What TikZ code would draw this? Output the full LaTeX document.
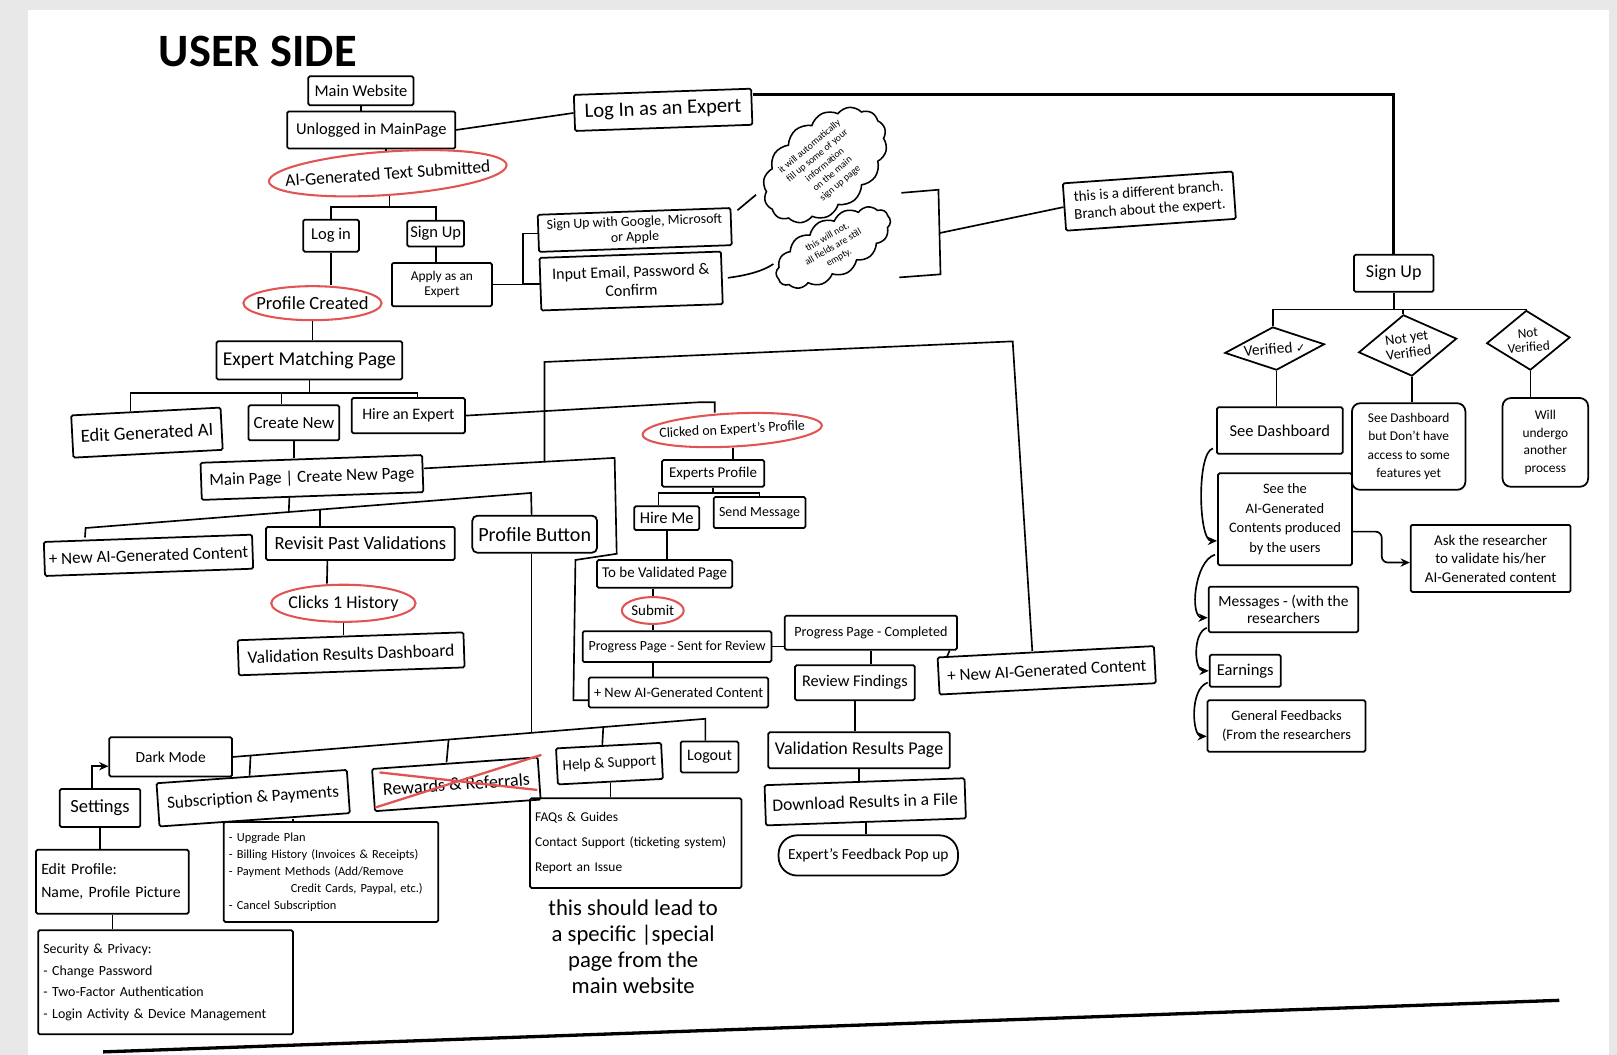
\documentclass[tikz,border=0pt]{standalone}
\usepackage{fontspec}
\setmainfont{Carlito}
\newfontfamily\symf{DejaVu Sans}
\usetikzlibrary{shapes.geometric,shapes.symbols,calc,arrows.meta}
\definecolor{hred}{RGB}{226,84,84}
\definecolor{pagegray}{RGB}{232,232,232}
\begin{document}
\begin{tikzpicture}[x=1pt,y=-1pt,
  box/.style={draw, line width=1.7pt, rounded corners=1.5pt, align=center, inner sep=1pt},
  fs/.style 2 args={font=\fontsize{#1}{#2}\selectfont},
  redell/.style={ellipse, draw=hred, line width=2pt, inner ysep=0pt, align=center},
  conn/.style={line width=1.6pt},
  arr/.style={line width=1.6pt, -{Stealth[length=9pt,width=8pt]}},
  dia/.style={diamond, draw, line width=1.7pt, inner sep=0pt, align=center},
  cloudy/.style={cloud, draw, line width=1.5pt, cloud puffs=14, cloud puff arc=100, cloud ignores aspect, inner sep=1pt, align=center},
  lbox/.style={draw, line width=1.7pt, rounded corners=1.5pt, align=left, inner xsep=5pt, inner ysep=3pt}
]
\useasboundingbox (0,0) rectangle (1568,1023);
\fill[pagegray] (0,0) rectangle (1568,1023);
\fill[white] (27,10) rectangle (1560,1023);

% ---------- title ----------
\node[font=\fontsize{45}{47}\selectfont\bfseries, inner sep=0pt] (title) at (250,50) {USER SIDE};

% ---------- top left ----------
\node[box, fs={16}{18}, minimum width=102pt, minimum height=28pt] (mw) at (350,88) {Main Website};
\node[box, fs={16}{18}, minimum width=163pt, minimum height=36pt] (ul) at (360,126) {Unlogged in MainPage};
\node[redell, inner xsep=-18pt, fs={17}{19}, minimum width=230pt, minimum height=42pt, rotate=4] (aig) at (376,168) {AI-Generated Text Submitted};
\node[box, fs={16}{18}, minimum width=54pt, minimum height=31pt] (login) at (321,228.5) {Log in};
\node[box, fs={16}{18}, minimum width=55pt, minimum height=25pt] (signup) at (422.5,226.5) {Sign Up};
\node[redell, inner xsep=-10pt, fs={18}{20}, minimum width=134pt, minimum height=33pt] (pc) at (303,294) {Profile Created};
\node[box, fs={13}{14}, minimum width=97pt, minimum height=42pt] (apply) at (428.5,276) {Apply as an\\Expert};
\node[box, fs={13.5}{13}, minimum width=187pt, minimum height=36pt, rotate=2] (sug) at (615.5,223) {Sign Up with Google, Microsoft\\[2pt]or Apple};
\node[box, fs={15.5}{18}, minimum width=176pt, minimum height=51pt, rotate=2] (inp) at (612,272.5) {Input Email, Password \&\\Confirm};
\node[box, fs={20}{22}, minimum width=172pt, minimum height=35pt, rotate=2] (lie) at (643,106.5) {Log In as an Expert};

\node[cloudy, rotate=40, fs={9.5}{11.5}, minimum width=138pt, minimum height=84pt] (c1) at (800,160) {it will automatically\\fill up some of your\\information\\on the main\\sign up page};
\node[cloudy, rotate=30, fs={9.5}{11.5}, minimum width=124pt, minimum height=56pt] (c2) at (808,240) {this will not,\\all fields are still\\empty.};
\node[box, fs={14.5}{17}, minimum width=165pt, minimum height=46pt, rotate=4] (note) at (1114.5,195) {this is a different branch.\\Branch about the expert.};

% ---------- expert side ----------
\node[box, fs={17.5}{19}, minimum width=77pt, minimum height=36pt] (esu) at (1351.5,265) {Sign Up};
\node[dia, aspect=2.4, rotate=5, fs={15}{16}, minimum width=97pt, minimum height=42pt] (dv) at (1236,338) {Verified {\symf\fontsize{11}{12}\selectfont ✓}};
\node[dia, aspect=1.6, rotate=8, fs={14}{15}, minimum width=96pt, minimum height=60pt] (dny) at (1365,335) {Not yet\\Verified};
\node[dia, aspect=1.4, rotate=4, fs={13}{14}, minimum width=81pt, minimum height=58pt] (dnv) at (1482,330) {Not\\Verified};
\node[box, fs={16}{18}, minimum width=122pt, minimum height=45pt] (sd) at (1241,417.5) {See Dashboard};
\node[box, rounded corners=8pt, fs={13}{18}, minimum width=110pt, minimum height=84pt] (sdb) at (1366,433) {See Dashboard\\but Don't have\\access to some\\features yet};
\node[box, rounded corners=8pt, fs={13}{17}, minimum width=83pt, minimum height=86pt] (wu) at (1498.5,429) {Will\\undergo\\another\\process};
\node[box, fs={14}{19}, minimum width=130pt, minimum height=89pt] (sai) at (1246,503.5) {See the\\AI-Generated\\Contents produced\\by the users};
\node[box, fs={14.5}{18}, minimum width=155pt, minimum height=65pt] (ask) at (1445.5,541.5) {Ask the researcher\\to validate his/her\\AI-Generated content};
\node[box, fs={15}{17}, minimum width=145pt, minimum height=44pt] (msg) at (1244.5,591) {Messages - (with the\\researchers};
\node[box, fs={16}{18}, minimum width=69pt, minimum height=31pt] (earn) at (1207.5,650.5) {Earnings};
\node[box, fs={14}{18}, minimum width=153pt, minimum height=50pt] (gf) at (1247.5,704) {General Feedbacks\\(From the researchers};

% ---------- middle left ----------
\node[box, fs={19}{21}, minimum width=180pt, minimum height=37pt] (emp) at (300,349.5) {Expert Matching Page};
\node[box, fs={18}{20}, minimum width=145pt, minimum height=41pt, rotate=3] (ega) at (142.5,419.5) {Edit Generated AI};
\node[box, fs={16.5}{18}, minimum width=88pt, minimum height=34pt] (cn) at (285,410) {Create New};
\node[box, fs={15.5}{17}, minimum width=110pt, minimum height=34pt] (hae) at (396,403) {Hire an Expert};
\node[box, fs={16.5}{18}, minimum width=215pt, minimum height=36pt, rotate=2] (mpc) at (302.5,463) {Main Page | Create New Page};
\node[box, fs={16.5}{18}, minimum width=202pt, minimum height=33pt, rotate=2] (nai1) at (144,538.5) {+ New AI-Generated Content};
\node[box, fs={18}{20}, minimum width=183pt, minimum height=32pt] (rpv) at (349.5,527) {Revisit Past Validations};
\node[box, rounded corners=5pt, fs={19.5}{21}, minimum width=121pt, minimum height=36pt] (pb) at (518.5,518) {Profile Button};
\node[redell, inner xsep=-9pt, fs={17.5}{19}, minimum width=140pt, minimum height=36pt] (c1h) at (333,585) {Clicks 1 History};
\node[box, fs={17}{19}, minimum width=219pt, minimum height=34pt, rotate=2] (vrd) at (340.5,634) {Validation Results Dashboard};

% ---------- middle column ----------
\node[redell, inner xsep=-11pt, fs={13.5}{15}, minimum width=174pt, minimum height=32pt, rotate=3] (cep) at (710,417) {Clicked on Expert's Profile};
\node[box, fs={14.5}{16}, minimum width=99pt, minimum height=26pt] (ep) at (691.5,459) {Experts Profile};
\node[box, fs={16}{17}, minimum width=63pt, minimum height=23pt] (hm) at (646.5,502.5) {Hire Me};
\node[box, fs={13.5}{15}, minimum width=89pt, minimum height=30pt] (sm) at (736.5,497) {Send Message};
\node[box, fs={14.5}{16}, minimum width=131pt, minimum height=27pt] (tbv) at (644.5,556.5) {To be Validated Page};
\node[redell, inner xsep=-1pt, fs={14.5}{16}, minimum width=60pt, minimum height=26pt] (sub) at (633,592) {Submit};
\node[box, fs={13.5}{15}, minimum width=183pt, minimum height=30pt] (pps) at (656.5,627) {Progress Page - Sent for Review};
\node[box, fs={13.7}{15}, minimum width=167pt, minimum height=33pt] (ppc) at (844.5,613.5) {Progress Page - Completed};
\node[box, fs={14}{15}, minimum width=174pt, minimum height=29pt] (nai2) at (658,671.5) {+ New AI-Generated Content};
\node[box, fs={15.8}{17}, minimum width=116pt, minimum height=34pt] (rf) at (829,662) {Review Findings};
\node[box, fs={16.5}{18}, minimum width=210pt, minimum height=36pt, rotate=3] (nai3) at (1015,650) {+ New AI-Generated Content};
\node[box, fs={17.5}{19}, minimum width=176pt, minimum height=35pt] (vrp) at (833,727.5) {Validation Results Page};
\node[box, fs={17}{19}, minimum width=194pt, minimum height=39pt, rotate=2] (drf) at (839,777.5) {Download Results in a File};
\node[box, rounded corners=18pt, fs={15}{17}, minimum width=174pt, minimum height=39pt] (efp) at (842,829.5) {Expert's Feedback Pop up};

% ---------- bottom ----------
\node[box, fs={15}{17}, minimum width=119pt, minimum height=38pt] (dm) at (165.5,734) {Dark Mode};
\node[box, fs={18}{20}, minimum width=78pt, minimum height=37pt] (set) at (97,783.5) {Settings};
\node[box, fs={16.5}{18}, minimum width=185pt, minimum height=42pt, rotate=4] (sp) at (245.5,774) {Subscription \& Payments};
\node[box, fs={17.5}{19}, minimum width=161pt, minimum height=41pt, rotate=4] (rr) at (442.5,760.5) {Rewards \& Referrals};
\node[box, fs={14.5}{16}, minimum width=102pt, minimum height=35pt, rotate=3] (hs) at (591,740.5) {Help \& Support};
\node[box, fs={15.5}{17}, minimum width=56pt, minimum height=30pt] (lo) at (688,734) {Logout};
\node[lbox, fs={15.3}{22}, text width=138pt, minimum height=62pt] (ep2) at (109,855) {Edit Profile:\\Name, Profile Picture};
\node[lbox, fs={13.5}{21}, text width=237pt, minimum height=101pt] (secp) at (160.5,952.5) {Security \& Privacy:\\- Change Password\\- Two-Factor Authentication\\- Login Activity \& Device Management};
\node[lbox, fs={12}{16.5}, text width=198pt, minimum height=97pt] (upg) at (321,845.5) {- Upgrade Plan\\- Billing History (Invoices \& Receipts)\\- Payment Methods (Add/Remove\\\hspace*{5em}Credit Cards, Paypal, etc.)\\- Cancel Subscription};
\node[lbox, fs={13}{24}, text width=195pt, minimum height=87pt] (faq) at (616.5,817.5) {FAQs \& Guides\\Contact Support (ticketing system)\\Report an Issue};
\node[fs={22}{25.5}, align=center, inner sep=0pt] (note2) at (614,918) {this should lead to\\a specific |special\\page from the\\main website};

% ---------- connectors: top left ----------
\draw[conn] (mw.south) -- (mw.south |- ul.north);
\draw[conn] (aig.north) -- (aig.north |- ul.south);
\coordinate (b1) at (365,201);
\draw[conn] (aig.south) -- (aig.south |- b1);
\draw[conn] (login.north) |- (b1) -| (signup.north);
\draw[conn] (login.south) -- (login.south |- pc.north);
\draw[conn] (signup.south) -- (signup.south |- apply.north);
\coordinate (brk) at (507,276);
\draw[conn] (apply.east) -- (brk);
\draw[conn] (sug.west) -| (brk) |- (inp.west);
\draw[conn] (ul.east) -- (lie.west);
\draw[line width=3.2pt] ([yshift=12pt]lie.east) -| (esu.north);
\draw[conn] ([shift={(6pt,-3pt)}]sug.north east) -- ++(18,-15);
\coordinate (c2in) at (750,256);
\draw[conn] ([xshift=5pt]inp.east) .. controls +(15,-2) and +(-12,8) .. (c2in);
\coordinate (k1) at (874,187);
\coordinate (k2) at (910,184);
\coordinate (k3) at (912,266);
\coordinate (k4) at (872,269);
\coordinate (km) at (911,226);
\draw[conn] (k1) -- (k2) -- (k3) -- (k4);
\draw[conn] (km) -- (note.west);

% ---------- connectors: expert side ----------
\coordinate (b2) at (1352,300);
\draw[conn] (esu.south) -- (esu.south |- b2);
\draw[conn] (dv.north) |- (b2) -| (dnv.north);
\draw[conn] (dny.north) -- (dny.north |- b2);
\draw[conn] (dv.south) -- (dv.south |- sd.north);
\draw[conn] (dny.south) -- (dny.south |- sdb.north);
\draw[conn] (dnv.south) -- (dnv.south |- wu.north);
\draw[arr] ([shift={(-3pt,6pt)}]sd.south west) .. controls +(-16,4) and +(-18,0) .. ([yshift=-21pt]sai.west);
\draw[arr] ([shift={(-2pt,11pt)}]sai.south west) .. controls +(-20,6) and +(-18,0) .. ([yshift=-8pt]msg.west);
\draw[arr] ([shift={(-1pt,5pt)}]msg.south west) .. controls +(-14,5) and +(-14,0) .. (earn.west);
\draw[arr] ([shift={(-1pt,5pt)}]earn.south west) .. controls +(-18,6) and +(-14,0) .. ([yshift=-10pt]gf.west);
\draw[arr, rounded corners=6pt] ([yshift=-12pt]sai.east) -- ++(28,0) |- ([yshift=-4pt]ask.west);

% ---------- connectors: middle left ----------
\draw[conn] (pc.south) -- (pc.south |- emp.north);
\coordinate (b3) at (300,381);
\draw[conn] (emp.south) -- (emp.south |- b3);
\draw[conn] ([xshift=-15pt]ega.north) |- (b3) -| ([xshift=9pt]hae.north);
\coordinate (cnt) at ([xshift=-12pt]cn.north);
\draw[conn] (cnt) -- (cnt |- b3);
\draw[conn] (cn.south) -- (cn.south |- mpc.north);
\coordinate (h1) at (679,390);
\draw[conn] (hae.east) -- (h1) -| ([xshift=-16pt]cep.north);
\coordinate (lp1) at (596,444);
\coordinate (lp2) at (598,537);
\coordinate (lp3) at (558,543);
\coordinate (lp4) at (556,679);
\draw[conn] ([yshift=5pt]mpc.east) -- (lp1) -- (lp2) -- (lp3) -- (lp4) -- (lp4 -| nai2.west);
\coordinate (lpj) at (528,448);
\coordinate (rt1) at (528,351);
\coordinate (rt2) at (982,331);
\draw[conn] (lpj) -- (rt1) -- (rt2) -- ([xshift=-13pt]nai3.north);
\coordinate (b4l) at (83,512);
\coordinate (b4r) at (515,478);
\coordinate (b4m) at (280,496.5);
\coordinate (b4v) at (310,494.1);
\draw[conn] ([xshift=-61pt]nai1.north) -- (b4l) -- (b4r) -- ([xshift=-3pt]pb.north);
\draw[conn] ([xshift=-22.5pt]mpc.south) -- (b4m);
\draw[conn] ([xshift=-39.5pt]rpv.north) -- (b4v);
\draw[conn] ([xshift=-32pt]rpv.south) -- ([xshift=-16pt]c1h.north);
\draw[conn] (c1h.south) -- (c1h.south |- vrd.north);

% ---------- connectors: middle column ----------
\draw[conn] (cep.south) -- (cep.south |- ep.north);
\coordinate (b5) at (690,478);
\draw[conn] (ep.south) -- (ep.south |- b5);
\draw[conn] ([xshift=-8pt]hm.north) |- (b5) -| (sm.north);
\draw[conn] (hm.south) -- (hm.south |- tbv.north);
\draw[conn] (sub.north) -- (sub.north |- tbv.south);
\draw[conn] (sub.south) -- (sub.south |- pps.north);
\draw[conn] (pps.east) -- (pps.east -| ppc.west);
\draw[conn] (sub.south |- pps.south) -- (sub.south |- nai2.north);
\draw[conn] (ppc.south) -- (ppc.south |- rf.north);
\draw[conn] ([xshift=-8pt]ppc.south east) -- ([xshift=10pt]nai3.north west);
\draw[conn] (rf.south) -- (rf.south |- vrp.north);
\draw[conn] (vrp.south) -- (vrp.south |- drf.north);
\draw[conn] (drf.south) -- (drf.south |- efp.north);

% ---------- connectors: bottom ----------
\coordinate (b6) at (515.5,710.6);
\draw[conn] ([xshift=-3pt]pb.south) -- (b6);
\coordinate (b7r) at (684,697);
\draw[conn] (dm.east) -- (b7r) -- ([xshift=-4pt]lo.north);
\coordinate (b7a) at (243,732.5);
\coordinate (b7b) at (435,717.1);
\coordinate (b7c) at (585,705);
\draw[conn] (b7a) -- ([xshift=-2pt]sp.north);
\draw[conn] (b7b) -- ([xshift=-8pt]rr.north);
\draw[conn] (b7c) -- ([xshift=-6pt]hs.north);
\draw[arr] ([xshift=-8pt]set.north) |- ([yshift=-9pt]dm.west);
\draw[conn] (set.south) -- (set.south |- ep2.north);
\draw[conn] (ep2.south) -- (ep2.south |- secp.north);
\coordinate (spd) at ($(sp.south)+(37,-2)$);
\draw[conn] (spd) -- (spd |- upg.north);
\draw[conn] (hs.south) -- (hs.south |- faq.north);

% red cross over Rewards & Referrals
\draw[hred, line width=2.2pt] (364,783) -- (525,732);
\draw[hred, line width=2.2pt] (368,749) -- (521,766);

% bottom line
\draw[line width=3.2pt] (100,1020) -- (1512,970);
\end{tikzpicture}
\end{document}
